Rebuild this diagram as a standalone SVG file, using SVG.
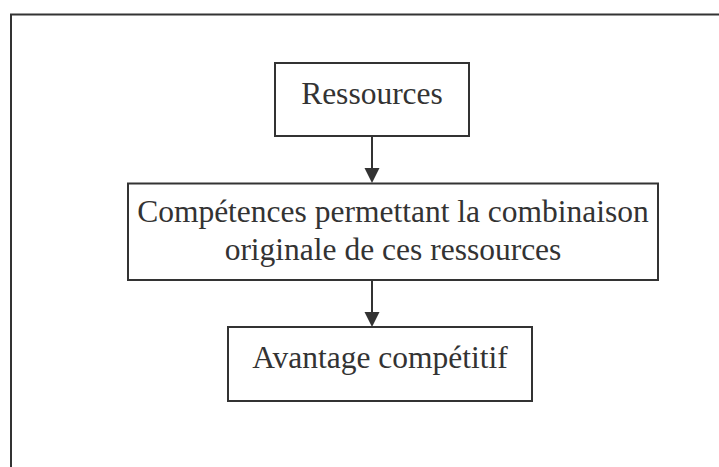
<svg xmlns="http://www.w3.org/2000/svg" width="719" height="467" viewBox="0 0 719 467">
<defs>
<style>
.box{fill:#fff;stroke:#333;stroke-width:2}
.t{font-family:"Liberation Serif","Times New Roman",serif;font-size:31.5px;fill:#333;text-anchor:middle}
.c{stroke:#333;stroke-width:2;fill:none}
.ah{fill:#333}
</style>
</defs>
<rect width="719" height="467" fill="#fff"/>
<path id="frame" d="M11,470 V14.5 H720" fill="none" stroke="#333" stroke-width="2"/>
<g id="connectors">
<line class="c" x1="372" y1="136" x2="372" y2="170"/>
<path class="ah" d="M364.5,168 L379.5,168 L372,183 Z"/>
<line class="c" x1="372" y1="280" x2="372" y2="314"/>
<path class="ah" d="M364.5,312 L379.5,312 L372,327 Z"/>
</g>
<g id="ressources">
<rect class="box" x="275" y="63" width="194" height="73"/>
<text class="t" x="372" y="104">Ressources</text>
</g>
<g id="competences">
<rect class="box" x="128" y="183.5" width="530" height="96.5"/>
<text class="t" x="393" y="222">Compétences permettant la combinaison</text>
<text class="t" x="393" y="260">originale de ces ressources</text>
</g>
<g id="avantage">
<rect class="box" x="228" y="327" width="304" height="74"/>
<text class="t" x="380" y="368">Avantage compétitif</text>
</g>
</svg>
